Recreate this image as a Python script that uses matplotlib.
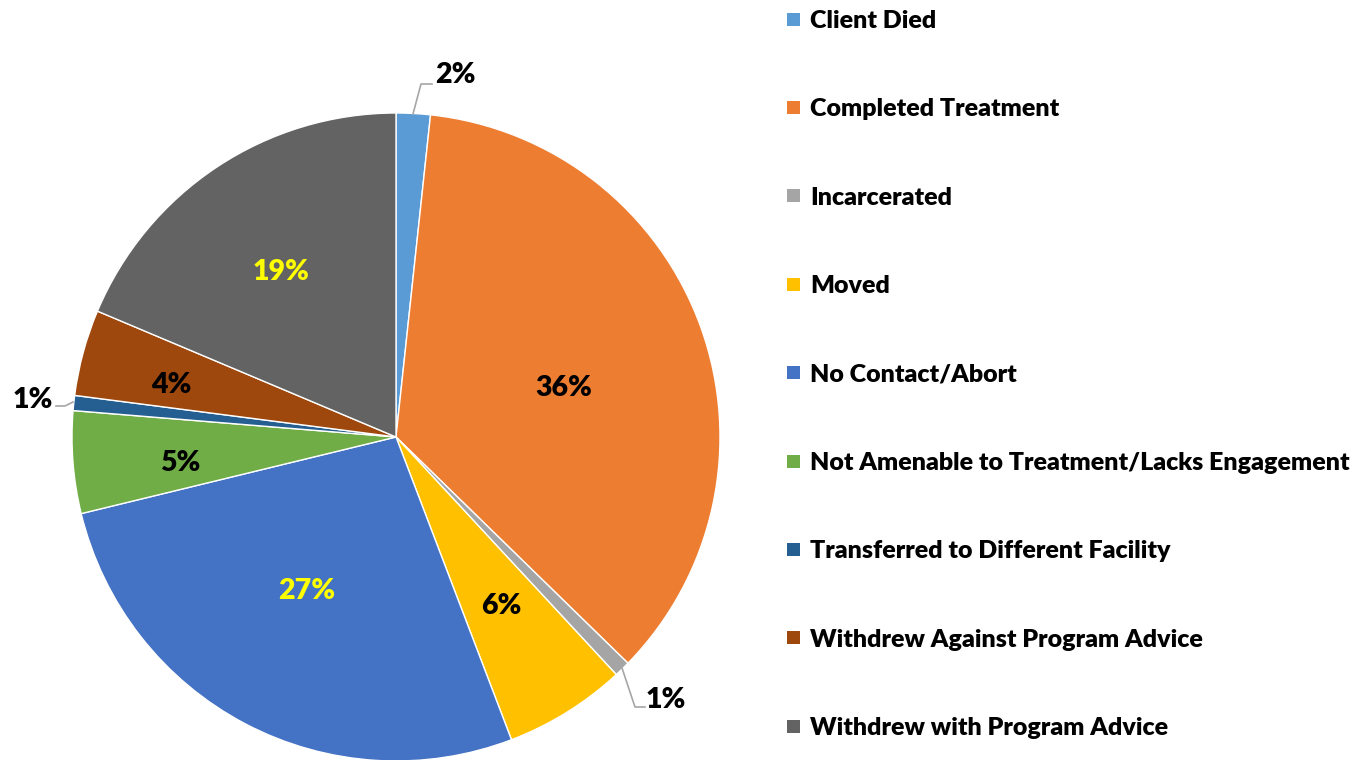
import numpy as np
import matplotlib
matplotlib.use("Agg")
import matplotlib.pyplot as plt
from matplotlib.patches import Rectangle

categories = ["Client Died", "Completed Treatment", "Incarcerated", "Moved",
              "No Contact/Abort", "Not Amenable to Treatment/Lacks Engagement",
              "Transferred to Different Facility", "Withdrew Against Program Advice",
              "Withdrew with Program Advice"]
shares = [1.7, 35.6, 0.8, 6.1, 27.0, 5.1, 0.75, 4.3, 18.65]
colors = ["#5B9BD5", "#ED7D31", "#A5A5A5", "#FFC000", "#4472C4",
          "#70AD47", "#255E91", "#9E480E", "#636363"]

# styling for data labels (inside radial distance + angle tweak, or None for outside)
label_dist = [None, 0.54, None, 0.61, 0.543, 0.67, None, 0.714, 0.628]
label_dang = [0, -2.8, 0, 0.5, -2.6, 1.8, 0, 1.6, 0.8]
label_color = ["black", "black", "black", "black", "#FFFF00", "black", "black", "black", "#FFFF00"]

FONT = "Lato"
WEIGHT = "heavy"
LBL_FS = 20.5
LEG_FS = 18
W, H = 1353, 760
fig = plt.figure(figsize=(W / 100, H / 100), dpi=100)
cx, cy, R = 396, 437, 324
ax = fig.add_axes([(cx - R) / W, (H - cy - R) / H, 2 * R / W, 2 * R / H])
wedges, _ = ax.pie(shares, colors=colors, startangle=90, counterclock=False,
                   radius=1.0, wedgeprops=dict(edgecolor="white", linewidth=1.0))
ax.set_xlim(-1, 1)
ax.set_ylim(-1, 1)
ax.set_aspect("equal")
ax.axis("off")

total = sum(shares)
labels = [f"{round(v / total * 100)}%" for v in shares]

for i, w in enumerate(wedges):
    th = np.deg2rad((w.theta1 + w.theta2) / 2 + label_dang[i])
    if label_dist[i] is not None:
        d = label_dist[i]
        ax.text(d * np.cos(th), d * np.sin(th), labels[i], ha="center", va="center_baseline",
                fontsize=LBL_FS, fontweight=WEIGHT, color=label_color[i], family=FONT)

# outside labels with leader lines (pixel-based offsets)
def px(x, y):
    return ((x - cx) / R, (cy - y) / R)

outside = {0: [(413, 114), (421, 84), (432, 84)],
           2: [(622, 668), (635, 707), (645, 707)],
           6: [(73, 402), (65, 406), (56, 406)]}
text_pos = {0: (455, 73), 2: (666, 698), 6: (33, 398)}
for i, pts in outside.items():
    xs, ys = zip(*[px(*p) for p in pts])
    ax.plot(xs, ys, color="#A6A6A6", lw=1.2, clip_on=False)
    tx, ty = px(*text_pos[i])
    ax.text(tx, ty, labels[i], ha="center", va="center_baseline", fontsize=LBL_FS,
            fontweight=WEIGHT, color="black", family=FONT, clip_on=False)

# legend
y0, dy = 19, 88.4
for i, (lab, col) in enumerate(zip(categories, colors)):
    y = y0 + i * dy
    fig.patches.append(Rectangle(((787) / W, (H - y - 6.5) / H), 13 / W, 13 / H,
                                 transform=fig.transFigure, facecolor=col, edgecolor="none"))
    fig.text(810 / W, (H - y) / H, lab, ha="left", va="center_baseline", fontsize=LEG_FS,
             fontweight=WEIGHT, family=FONT, color="black")

fig.savefig("out.png", dpi=100)
